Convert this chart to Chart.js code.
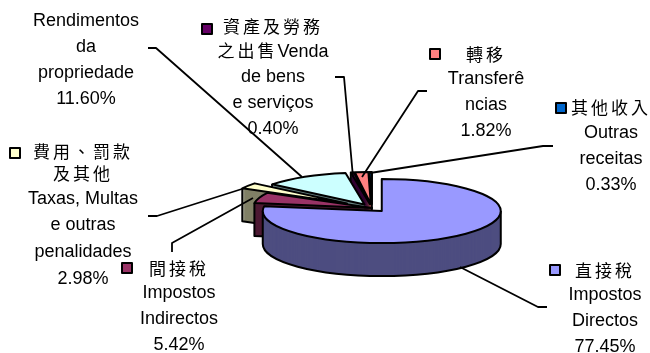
<!DOCTYPE html>
<html>
<head>
<meta charset="utf-8">
<style>
  html, body { margin: 0; padding: 0; background: #fff; }
  #wrap { width: 650px; height: 353px; }
</style>
</head>
<body>
<div id="wrap"><canvas id="myChart" width="650" height="353"></canvas></div>
<script src="https://cdn.jsdelivr.net/npm/chart.js@4"></script>
<script>
// clockwise from 12 o'clock
const categories = ['直接稅 Impostos Directos', '間接稅 Impostos Indirectos', '費用、罰款及其他 Taxas, Multas e outras penalidades',
    'Rendimentos da propriedade', '資產及勞務之出售 Venda de bens e serviços', '轉移 Transferências', '其他收入 Outras receitas'];
const values = [77.45, 5.42, 2.98, 11.60, 0.40, 1.82, 0.33];
const labelLines = [
    ['直接稅', 'Impostos', 'Directos'],
    ['間接稅', 'Impostos', 'Indirectos'],
    ['費用、罰款', '及其他', 'Taxas, Multas', 'e outras', 'penalidades'],
    ['Rendimentos', 'da', 'propriedade'],
    ['資產及勞務', '之出售Venda', 'de bens', 'e serviços'],
    ['轉移', 'Transferê', 'ncias'],
    ['其他收入', 'Outras', 'receitas']
];

const topColors = ['#9999FF', '#993366', '#FFFFCC', '#CCFFFF', '#660066', '#FF8080', '#0066CC'];
const wallColors = ['#4D4D80', '#4D1A33', '#808066', '#668080', '#330033', '#804040', '#003366'];
const explode = [15, 0, 30, 15, 15, 15, 15];

const squash = 32 / 119;
const depth = 33;

// label layout: centre x and the baseline of every line
const labelX = [605, 179, 83, 86, 273, 486, 611];
const labelY = [
    [277, 300, 326, 352],
    [275, 298, 324, 350],
    [158, 180, 204, 230, 257, 284],
    [26, 52, 78, 104],
    [33, 57, 82, 108, 134],
    [61, 84, 110, 136],
    [114, 138, 164, 190]
];
const keyPos = [[550, 265], [122, 263], [10, 148], null, [202, 24], [430, 49], [556, 103]];
const leaders = [
    [[460, 267], [538, 307], [547, 307]],
    [[172, 252], [172, 243], [253, 198]],
    [[148, 216], [157, 216], [245, 188]],
    [[148, 48], [156, 48], [302, 177]],
    [[335, 77], [344, 77], [353, 177]],
    [[427, 91], [418, 91], [362, 177]],
    [[553, 146], [543, 146], [370, 173]]
];

function slicePath(ctx, el, i, dy) {
    const mid = (el.startAngle + el.endAngle) / 2;
    const d = explode[i];
    ctx.save();
    ctx.translate(el.x + Math.cos(mid) * d, el.y + Math.sin(mid) * d * squash + dy);
    ctx.scale(1, squash);
    ctx.beginPath();
    ctx.moveTo(0, 0);
    ctx.arc(0, 0, el.outerRadius, el.startAngle, el.endAngle);
    ctx.closePath();
    ctx.restore();
}

function rimPoint(el, i, a, dy) {
    const mid = (el.startAngle + el.endAngle) / 2;
    const d = explode[i];
    return [el.x + Math.cos(mid) * d + Math.cos(a) * el.outerRadius,
        el.y + (Math.sin(mid) * d + Math.sin(a) * el.outerRadius) * squash + dy];
}

function drawSlice(ctx, el, i) {
    const mid = (el.startAngle + el.endAngle) / 2;
    const d = explode[i];
    const cx = el.x + Math.cos(mid) * d;
    const cy = el.y + Math.sin(mid) * d * squash;

    // the wall is the slice stacked downwards
    ctx.fillStyle = wallColors[i];
    for (let s = depth; s > 0; s--) {
        slicePath(ctx, el, i, s);
        ctx.fill();
    }

    ctx.strokeStyle = '#000';
    ctx.lineWidth = 2;
    ctx.lineJoin = 'round';

    // cut faces that look towards the viewer
    [[el.startAngle, Math.cos(el.startAngle) < 0], [el.endAngle, Math.cos(el.endAngle) > 0]].forEach(([a, visible]) => {
        if (!visible) return;
        const p = rimPoint(el, i, a, 0);
        ctx.beginPath();
        ctx.moveTo(p[0], p[1]);
        ctx.lineTo(p[0], p[1] + depth);
        ctx.lineTo(cx, cy + depth);
        ctx.stroke();
    });

    // front part of the rim
    const from = Math.max(el.startAngle, 0);
    const to = Math.min(el.endAngle, Math.PI);
    if (to > from) {
        const a = rimPoint(el, i, from, 0);
        const b = rimPoint(el, i, to, 0);
        ctx.save();
        ctx.translate(cx, cy + depth);
        ctx.scale(1, squash);
        ctx.beginPath();
        ctx.arc(0, 0, el.outerRadius, from, to);
        ctx.restore();
        ctx.stroke();
        ctx.beginPath();
        ctx.moveTo(a[0], a[1]);
        ctx.lineTo(a[0], a[1] + depth);
        ctx.moveTo(b[0], b[1]);
        ctx.lineTo(b[0], b[1] + depth);
        ctx.stroke();
    }

    slicePath(ctx, el, i, 0);
    ctx.fillStyle = topColors[i];
    ctx.fill();
    ctx.stroke();
}

const pie3d = {
    id: 'pie3d',
    beforeDatasetsDraw(chart) {
        const ctx = chart.ctx;
        const arcs = chart.getDatasetMeta(0).data;
        // back to front, the big slice last
        [6, 5, 4, 3, 2, 1, 0].forEach(i => drawSlice(ctx, arcs[i], i));
        return false;
    }
};

function drawLine(ctx, text, cx, y) {
    const runs = text.match(/[\u3000-\u9fff]+|[^\u3000-\u9fff]+/g);
    const style = run => /[\u3000-\u9fff]/.test(run)
        ? ['17px "Noto Sans CJK TC"', '3px'] : ['18px "Liberation Sans"', '0px'];
    let total = 0;
    const widths = runs.map(run => {
        const [font, sp] = style(run);
        ctx.font = font;
        ctx.letterSpacing = sp;
        const w = ctx.measureText(run).width;
        total += w;
        return w;
    });
    let x = cx - total / 2;
    runs.forEach((run, k) => {
        const [font, sp] = style(run);
        ctx.font = font;
        ctx.letterSpacing = sp;
        ctx.fillText(run, x, y);
        x += widths[k];
    });
}

const annotations = {
    id: 'annotations',
    afterDraw(chart) {
        const ctx = chart.ctx;
        ctx.save();
        ctx.strokeStyle = '#000';
        ctx.lineWidth = 1.8;
        leaders.forEach(pts => {
            ctx.beginPath();
            pts.forEach((p, k) => k ? ctx.lineTo(p[0], p[1]) : ctx.moveTo(p[0], p[1]));
            ctx.stroke();
        });
        keyPos.forEach((p, i) => {
            if (!p) return;
            ctx.fillStyle = topColors[i];
            ctx.lineWidth = 2;
            ctx.fillRect(p[0], p[1], 10, 10);
            ctx.strokeRect(p[0], p[1], 10, 10);
        });
        ctx.fillStyle = '#000';
        ctx.textAlign = 'left';
        ctx.textBaseline = 'alphabetic';
        labelLines.forEach((lines, i) => {
            const all = lines.concat(values[i].toFixed(2) + '%');
            all.forEach((t, k) => drawLine(ctx, t, labelX[i], labelY[i][k]));
        });
        ctx.restore();
    }
};

const ctx = document.getElementById('myChart').getContext('2d');
new Chart(ctx, {
    type: 'pie',
    data: {
        labels: categories,
        datasets: [{
            data: values,
            backgroundColor: topColors,
            borderColor: '#000',
            radius: 119
        }]
    },
    options: {
        responsive: false,
        animation: false,
        layout: { padding: { left: 94, top: 63 } },
        plugins: {
            legend: { display: false },
            tooltip: { enabled: false }
        }
    },
    plugins: [pie3d, annotations]
});
</script>
</body>
</html>
